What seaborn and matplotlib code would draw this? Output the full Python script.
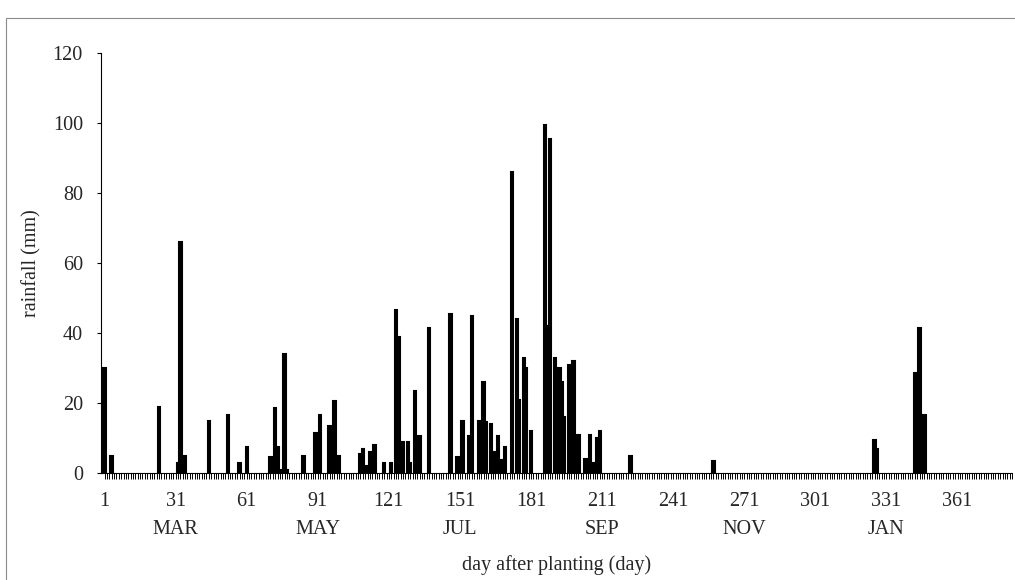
import matplotlib
matplotlib.use("Agg")
import matplotlib.pyplot as plt
import seaborn as sns
import pandas as pd
from matplotlib.patches import Rectangle

# ---- data (day after planting, daily rainfall in mm) ----
days = [1, 4, 24, 32, 33, 35, 45, 53, 58, 61, 71, 73, 74, 76, 77, 78, 85, 90, 92, 96,
        98, 100, 109, 110, 112, 113, 115, 119, 122, 124, 125, 127, 129, 130, 132, 133,
        134, 138, 147, 150, 152, 155, 156, 159, 161, 162, 164, 166, 167, 169, 170,
        173, 175, 176, 178, 179, 181, 187, 188, 189, 191, 193, 194, 195, 197, 198, 199,
        201, 204, 206, 207, 209, 210, 223, 258, 326, 327, 343, 344, 345, 346, 347]
rain = [30, 5, 19, 3, 66, 5, 15, 16.5, 3, 7.5, 4.5, 18.5, 7.5, 1, 34, 1, 5, 11.5, 16.5, 13.5,
        20.5, 5, 5.5, 7, 2, 6, 8, 3, 3, 46.5, 39, 9, 9, 2.8, 23.5, 3,
        10.5, 41.5, 45.5, 4.5, 15, 10.5, 45, 15, 26, 14.5, 14, 6, 10.5, 3.7, 7.4,
        86, 44, 21, 33, 30, 12, 99.5, 42, 95.5, 33, 30, 26, 16, 31, 29.5, 32,
        11, 4, 11, 3, 10, 12, 5, 3.5, 9.5, 7, 28.5, 27, 41.5, 10, 16.5]

tick_days = [1, 31, 61, 91, 121, 151, 181, 211, 241, 271, 301, 331, 361]
month_at = {31: "MAR", 91: "MAY", 151: "JUL", 211: "SEP", 271: "NOV", 331: "JAN"}
y_ticks = [0, 20, 40, 60, 80, 100, 120]

df = pd.DataFrame({"day": days, "rain": rain})

sns.set_style("ticks")
plt.rcParams["font.family"] = ["Liberation Serif", "DejaVu Serif"]
FS = 14.5

fig = plt.figure(figsize=(10.15, 5.8), dpi=100)
ax = fig.add_axes([101 / 1015, 1 - 473 / 580, 911 / 1015, 420 / 580])

sns.barplot(data=df, x="day", y="rain", native_scale=True, width=1.0,
            color="black", edgecolor="black", linewidth=1.5, saturation=1,
            errorbar=None, ax=ax)

ax.set_xlim(-0.5, 384)
ax.set_ylim(0, 120)
ax.set_yticks(y_ticks)
ax.set_yticklabels([str(v) for v in y_ticks], fontsize=FS)
ax.set_xticks(tick_days)
labels = [f"{d}\n{month_at[d]}" if d in month_at else str(d) for d in tick_days]
ax.set_xticklabels(labels, fontsize=FS)
for t in ax.get_xticklabels():
    t.set_linespacing(1.65)
    t.set_verticalalignment("top")
ax.set_xticks(list(range(1, 385)), minor=True)

ax.tick_params(axis="x", which="both", direction="out", length=4.5, width=0.7,
               color="black", pad=9)
ax.tick_params(axis="y", direction="out", length=3, width=0.8, color="black", pad=10)

for s in ["top", "right"]:
    ax.spines[s].set_visible(False)
ax.spines["left"].set_color("black")
ax.spines["left"].set_linewidth(0.8)
ax.spines["bottom"].set_color("black")
ax.spines["bottom"].set_linewidth(0.8)

ax.set_xlabel("day after planting (day)", fontsize=FS, labelpad=12)
ax.set_ylabel("rainfall (mm)", fontsize=FS, labelpad=8)

fig.patches.append(Rectangle((6 / 1015, -0.05), 1.2, 1.05 - 18 / 580,
                             transform=fig.transFigure, fill=False,
                             edgecolor="#8a8a8a", linewidth=0.8))

fig.savefig("out.png", dpi=100, facecolor="white")
